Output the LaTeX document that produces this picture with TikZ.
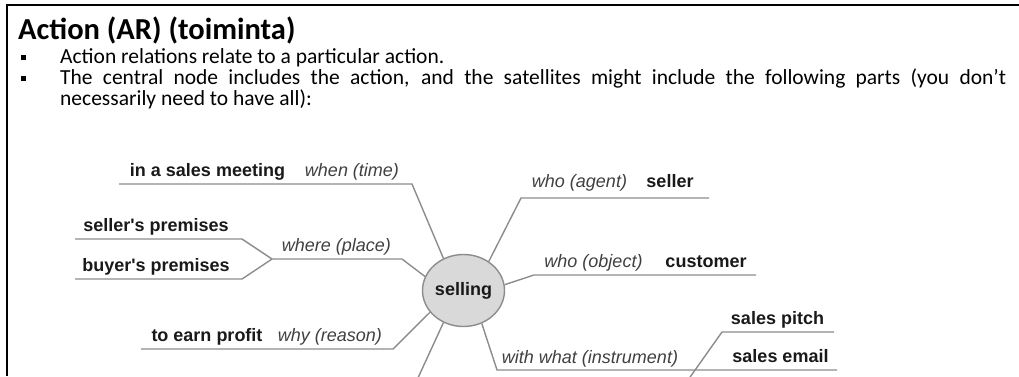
\documentclass[tikz,border=0pt]{standalone}
\usepackage{fontspec}
\setmainfont{Carlito}
\newfontfamily\mapfont{Liberation Sans}
\usetikzlibrary{shapes.geometric}
\definecolor{linegray}{HTML}{8C8C8C}
\definecolor{nodegray}{HTML}{D9D9D9}

\begin{document}
\begin{tikzpicture}[x=1pt,y=-1pt]
\tikzstyle{every node}=[inner sep=0pt]
\tikzstyle{thing}=[anchor=base,text=black!90,font=\mapfont\fontsize{18}{18}\selectfont\bfseries]
\tikzstyle{role}=[anchor=base,text=black!75,font=\mapfont\fontsize{18}{18}\selectfont\itshape]
\tikzstyle{body}=[anchor=base west,font=\fontsize{21.5}{21.5}\selectfont]
\tikzstyle{link}=[draw=linegray,line width=1.4pt]
\useasboundingbox (0,0) rectangle (1019,376);
% frame
\draw[line width=2pt] (7,376) -- (7,5) -- (1019,5);
% heading and bullets
\draw (18,39) node (title) [anchor=base west,font=\bfseries\fontsize{30.5}{30.5}\selectfont] {Action (AR) (toiminta)};
\fill (21,55) rectangle (25.5,59.5);
\fill (21,76) rectangle (25.5,80.5);
\draw (60,63.5) node (b1) [body] {Action relations relate to a particular action.};
\draw (60,84.5) node (b2) [body] {\makebox[946pt][s]{The central node includes the action, and the satellites might include the following parts (you don't}};
\draw (60,105.5) node (b3) [body] {necessarily need to have all):};
% centre
\draw (463.5,290.5) node (selling) [ellipse,draw=linegray,fill=nodegray,line width=1.4pt,minimum width=82pt,minimum height=72pt,thing,anchor=center] {selling};
% when
\draw (207.5,176) node (meet) [thing] {in a sales meeting};
\draw (352,176) node (when) [role] {when (time)};
\coordinate (whenL) at (119,184);
\coordinate (whenB) at (412,184);
\draw[link] (whenL) -- (whenB) -- (selling.122);
% who agent
\draw (579.5,187) node (agent) [role] {who (agent)};
\draw (670,187) node (seller) [thing] {seller};
\coordinate (agentB) at (521,198);
\coordinate (agentR) at (709,198);
\draw[link] (selling.49) -- (agentB) -- (agentR);
% where
\draw (156,231) node (sprem) [thing] {seller's premises};
\draw (156,271) node (bprem) [thing] {buyer's premises};
\draw (336.5,251) node (where) [role] {where (place)};
\coordinate (spremL) at (75,239);
\coordinate (spremB) at (242,239);
\coordinate (bpremL) at (75,279);
\coordinate (bpremB) at (242,279);
\coordinate (whereL) at (272,259);
\coordinate (whereB) at (402,259);
\draw[link] (spremL) -- (spremB) -- (whereL);
\draw[link] (bpremL) -- (bpremB) -- (whereL);
\draw[link] (whereL) -- (whereB) -- (selling.160);
% who object
\draw (593.5,267) node (object) [role] {who (object)};
\draw (706,267) node (customer) [thing] {customer};
\coordinate (objectB) at (534,275);
\coordinate (objectR) at (756,275);
\draw[link] (selling.8) -- (objectB) -- (objectR);
% why
\draw (207,341) node (profit) [thing] {to earn profit};
\draw (330,341) node (why) [role] {why (reason)};
\coordinate (whyL) at (141,349);
\coordinate (whyB) at (393,349);
\draw[link] (whyL) -- (whyB) -- (selling.213);
% with what
\draw (590,363) node (with) [role] {with what (instrument)};
\draw (777.5,324) node (pitch) [thing] {sales pitch};
\draw (780.5,362) node (email) [thing] {sales email};
\coordinate (withB) at (497,370);
\coordinate (withJ) at (692,370);
\coordinate (withR) at (837,370);
\coordinate (pitchB) at (722,332);
\coordinate (pitchR) at (834,332);
\coordinate (pitchD) at (688,380);
\draw[link] (selling.299) -- (withB) -- (withJ) -- (withR);
\draw[link] (pitchR) -- (pitchB) -- (pitchD);
% cut off below
\coordinate (lowB) at (417,380);
\draw[link] (selling.238) -- (lowB);
\end{tikzpicture}
\end{document}
